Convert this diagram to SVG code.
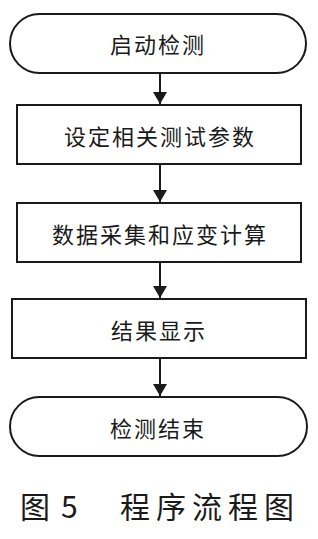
<svg xmlns="http://www.w3.org/2000/svg" width="318" height="539" viewBox="0 0 318 539">
<style>
.shape{fill:#fff;stroke:#1a1a1a;stroke-width:2}
.lbl{font-family:"Noto Sans CJK SC","Noto Sans",sans-serif;font-size:22px;fill:#1a1a1a;text-anchor:middle;dominant-baseline:central;letter-spacing:2px}
.conn{stroke:#1a1a1a;stroke-width:2;fill:none;marker-end:url(#ah)}
.cap{font-family:"Noto Sans CJK SC","Noto Sans",sans-serif;font-size:30px;fill:#1a1a1a}
</style>
<defs>
<marker id="ah" viewBox="0 0 12 14" refX="12" refY="7" markerWidth="12" markerHeight="14" markerUnits="userSpaceOnUse" orient="auto">
<path d="M0,0 L12,7 L0,14 Z" fill="#1a1a1a"/>
</marker>
</defs>
<rect width="318" height="539" fill="#fff"/>
<g id="start"><rect class="shape" x="10" y="14" width="296" height="59" rx="29.5"/><text class="lbl" x="158" y="43">启动检测</text></g>
<g id="set"><rect class="shape" x="17" y="105" width="284" height="59"/><text class="lbl" x="160" y="135">设定相关测试参数</text></g>
<g id="acq"><rect class="shape" x="17" y="203" width="284" height="59"/><text class="lbl" x="160" y="233">数据采集和应变计算</text></g>
<g id="show"><rect class="shape" x="12" y="299" width="294" height="59"/><text class="lbl" x="159" y="329">结果显示</text></g>
<g id="end"><rect class="shape" x="10" y="397" width="297" height="59" rx="29.5"/><text class="lbl" x="158" y="427">检测结束</text></g>
<g id="connectors">
<line class="conn" x1="160" y1="73" x2="160" y2="104"/>
<line class="conn" x1="160" y1="164" x2="160" y2="202"/>
<line class="conn" x1="160" y1="262" x2="160" y2="298"/>
<line class="conn" x1="160" y1="358" x2="160" y2="396"/>
</g>
<text class="cap" x="20" y="518">图</text>
<text class="cap" x="61" y="518">5</text>
<text class="cap" x="120" y="518" letter-spacing="6">程序流程图</text>
</svg>
